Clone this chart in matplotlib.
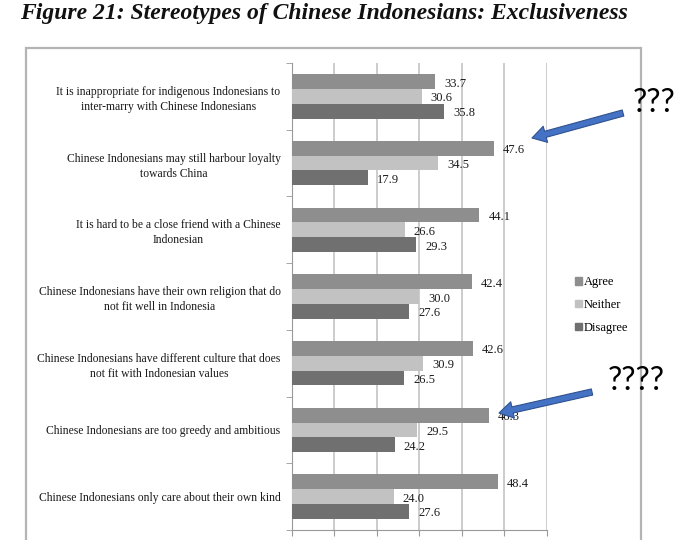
import matplotlib
matplotlib.use("Agg")
import matplotlib.pyplot as plt
import numpy as np
from matplotlib.patches import Rectangle, Patch, FancyArrowPatch

# Survey data
categories = [
    "It is inappropriate for indigenous Indonesians to\ninter-marry with Chinese Indonesians",
    "Chinese Indonesians may still harbour loyalty\ntowards China",
    "It is hard to be a close friend with a Chinese\nIndonesian",
    "Chinese Indonesians have their own religion that do\nnot fit well in Indonesia",
    "Chinese Indonesians have different culture that does\nnot fit with Indonesian values",
    "Chinese Indonesians are too greedy and ambitious",
    "Chinese Indonesians only care about their own kind",
]
agree = [33.7, 47.6, 44.1, 42.4, 42.6, 46.3, 48.4]
neither = [30.6, 34.5, 26.6, 30.0, 30.9, 29.5, 24.0]
disagree = [35.8, 17.9, 29.3, 27.6, 26.5, 24.2, 27.6]
series_names = ["Agree", "Neither", "Disagree"]
xticks = [0, 10, 20, 30, 40, 50, 60]

colors = ["#8e8e8e", "#c2c2c2", "#707070"]
serif = "Liberation Serif"

W, H = 676, 540
fig = plt.figure(figsize=(W / 100, H / 100), dpi=100)

# outer frame around the chart
fig.patches.append(Rectangle((26 / W, -0.1), (641 - 26) / W, 0.1 + 1 - 48 / H,
                             transform=fig.transFigure, fill=False,
                             edgecolor="#b4b4b4", linewidth=1.6))

ax = fig.add_axes([291.7 / W, 1 - 530 / H, (547 - 291.7) / W, (530 - 63) / H])

y = np.arange(len(categories))
bh = 0.222
for vals, off, c in zip([agree, neither, disagree], [-bh, 0, bh], colors):
    ax.barh(y + off, vals, height=bh, color=c, zorder=3)
    for yi, v in zip(y + off, vals):
        ax.text(v + 2.1, yi + 0.03, f"{v:.1f}", va="center", ha="left",
                fontsize=9, family=serif, color="#1a1a1a", zorder=4)

ax.set_xlim(0, 60)
ax.set_ylim(len(categories) - 0.5, -0.5)
ax.set_xticks(xticks)
ax.set_xticklabels([])
ax.grid(axis="x", color="#c4c4c4", linewidth=1.2, zorder=0)
ax.set_yticks(y)
ax.set_yticklabels(categories, fontsize=8.35, family=serif, color="#1a1a1a",
                   multialignment="center")
for lab in ax.get_yticklabels():
    lab.set_linespacing(1.35)
ax.set_yticks(np.arange(len(categories) + 1) - 0.5, minor=True)
ax.tick_params(axis="y", which="major", length=0, pad=8)
ax.tick_params(axis="y", which="minor", length=4, color="#999999")
ax.tick_params(axis="x", length=4, color="#999999")
for s in ["top", "right"]:
    ax.spines[s].set_visible(False)
for s in ["left", "bottom"]:
    ax.spines[s].set_color("#999999")

handles = [Patch(color=c) for c in colors]
fig.legend(handles, series_names, loc="center left",
           bbox_to_anchor=(564 / W, 1 - 305 / H), frameon=False,
           handlelength=0.5, handleheight=0.5, handletextpad=0.15,
           labelspacing=0.85, prop={"family": serif, "size": 9})

fig.text(20 / W, 1 - 13 / H, "Figure 21: Stereotypes of Chinese Indonesians: Exclusiveness",
         family=serif, fontweight="bold", style="italic", fontsize=17,
         va="center", ha="left", color="#111111")

# blue annotation arrows and question marks
arrow_kw = dict(arrowstyle="simple,head_length=1.0,head_width=1.2,tail_width=0.45",
                mutation_scale=10, facecolor="#4472c4", edgecolor="#2f528f",
                linewidth=0.8, shrinkA=0, shrinkB=0, transform=fig.transFigure)
for (x0, y0), (x1, y1) in [((623, 113), (532, 138)), ((592, 392), (499, 413))]:
    fig.patches.append(FancyArrowPatch((x0 / W, 1 - y0 / H), (x1 / W, 1 - y1 / H), **arrow_kw))

fig.text(633 / W, 1 - 103 / H, "???", family="Lato", fontsize=23, va="center", ha="left")
fig.text(608 / W, 1 - 381 / H, "????", family="Lato", fontsize=23, va="center", ha="left")

fig.savefig("out.png", dpi=100)
